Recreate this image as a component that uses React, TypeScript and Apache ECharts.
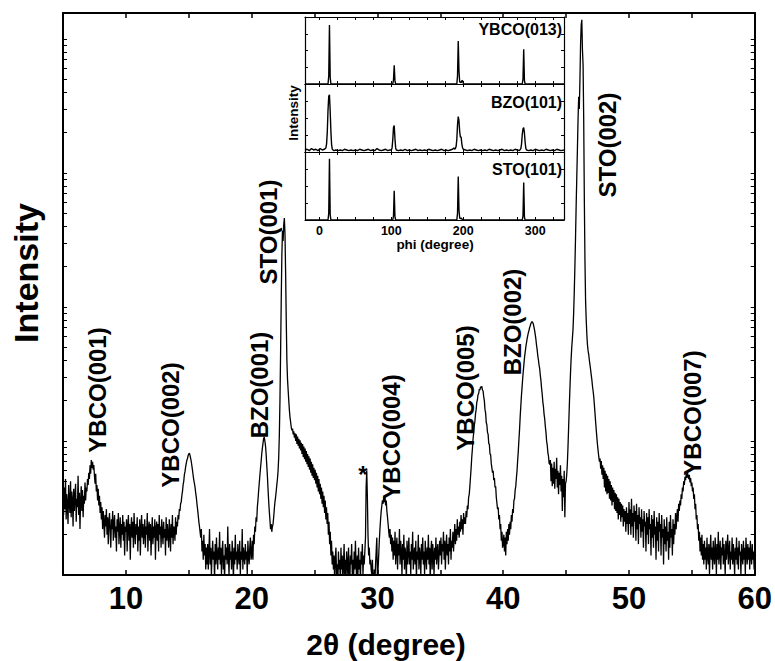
import React, { useEffect, useRef } from "react";
import * as echarts from "echarts";

// ---- main 2theta scan: counts at 0.05 deg steps starting at 5.00 deg ----
const SCAN_START = 5;
const SCAN_STEP = 0.05;

const seg05 = [
  38, 28, 45, 31, 52, 26, 40, 33, 24, 47,
  35, 29, 50, 27, 42, 36, 23, 44, 30, 39,
  48, 25, 37, 32, 55, 28, 41, 22, 36, 46,
  30, 43, 27, 39, 34, 49, 36, 45, 42, 52,
  47, 58, 52, 66, 57, 72, 63, 70, 61, 66,
  55, 48, 57, 42, 47, 36, 44, 33, 39, 29,
  35, 26, 32, 22, 30, 25, 19, 28, 23, 31,
  20, 27, 17, 25, 29, 21, 16, 26, 22, 30,
  18, 24, 28, 19, 23, 15, 26, 21, 29, 17,
  22, 27, 16, 24, 20, 28, 18, 25, 14, 23,
];
const seg10 = [
  21, 26, 15, 23, 28, 18, 24, 13, 22, 27,
  19, 25, 16, 29, 21, 17, 24, 20, 27, 15,
  23, 18, 26, 14, 22, 28, 19, 24, 17, 21,
  26, 16, 23, 20, 29, 15, 22, 25, 18, 24,
  14, 21, 27, 17, 23, 19, 26, 13, 22, 25,
  18, 24, 15, 28, 20, 23, 16, 26, 21, 17,
  25, 19, 22, 14, 27, 18, 24, 20, 16, 26,
  21, 15, 24, 19, 28, 17, 23, 22, 18, 27,
  20, 25, 23, 28, 26, 31, 30, 34, 35, 39,
  42, 47, 50, 56, 59, 64, 68, 72, 74, 78,
];
const seg15 = [
  80, 81, 78, 74, 70, 65, 60, 55, 51, 48,
  45, 41, 38, 34, 31, 28, 25, 23, 21, 19,
  22, 15, 18, 13, 20, 14, 17, 11, 16, 12,
  17, 11, 15, 22, 12, 16, 10, 14, 18, 13,
  15, 9, 17, 12, 19, 14, 11, 16, 13, 21,
  12, 16, 10, 15, 18, 11, 14, 9, 17, 13,
  16, 12, 23, 14, 10, 17, 13, 15, 11, 18,
  14, 9, 16, 12, 20, 13, 15, 11, 17, 14,
  12, 18, 10, 15, 13, 22, 11, 16, 14, 12,
  17, 13, 15, 10, 18, 14, 12, 16, 19, 13,
];
const seg20 = [
  14, 18, 13, 20, 17, 23, 21, 27, 25, 32,
  36, 42, 48, 55, 62, 70, 80, 88, 96, 104,
  107, 100, 92, 80, 66, 55, 44, 36, 30, 26,
  22, 24, 21, 23, 24, 27, 31, 35, 38, 42,
  47, 52, 60, 75, 110, 200, 450, 1100, 2400, 3700,
  3100, 4100, 4600, 3500, 1800, 800, 400, 290, 240, 200,
  170, 150, 138, 126, 120, 124, 112, 118, 106, 114,
  100, 112, 95, 108, 92, 104, 88, 101, 85, 97,
  80, 95, 76, 91, 73, 88, 70, 84, 67, 80,
  64, 77, 61, 74, 58, 70, 55, 67, 53, 63,
];
const seg25 = [
  51, 61, 48, 58, 45, 55, 42, 52, 40, 48,
  37, 45, 34, 42, 32, 39, 29, 36, 26, 32,
  24, 29, 20, 25, 17, 21, 14, 18, 12, 15,
  11, 14, 9, 13, 16, 10, 12, 8, 15, 11,
  13, 9, 16, 11, 14, 8, 12, 17, 10, 13,
  9, 15, 12, 10, 16, 11, 8, 14, 12, 17,
  10, 13, 9, 15, 11, 18, 12, 9, 14, 10,
  16, 11, 13, 9, 15, 12, 17, 10, 14, 12,
  15, 19, 45, 60, 38, 20, 14, 16, 12, 13,
  11, 10, 13, 9, 8, 11, 9, 12, 15, 19,
];
const seg30 = [
  9, 11, 14, 18, 22, 26, 30, 33, 36, 34,
  38, 35, 39, 33, 36, 30, 27, 24, 21, 19,
  22, 17, 20, 15, 19, 13, 18, 14, 21, 12,
  16, 19, 11, 17, 14, 22, 12, 18, 15, 10,
  17, 13, 20, 11, 16, 14, 9, 18, 12, 15,
  19, 12, 15, 10, 17, 13, 21, 11, 14, 16,
  12, 18, 9, 15, 13, 20, 11, 16, 14, 10,
  17, 13, 19, 12, 15, 10, 18, 14, 11, 16,
  13, 20, 12, 16, 9, 15, 18, 11, 17, 14,
  10, 16, 13, 19, 12, 15, 17, 11, 14, 18,
];
const seg35 = [
  14, 19, 12, 17, 15, 21, 13, 18, 11, 16,
  20, 14, 17, 12, 19, 15, 22, 13, 18, 16,
  21, 15, 19, 24, 17, 22, 18, 26, 20, 23,
  19, 25, 21, 28, 22, 26, 20, 29, 24, 27,
  24, 30, 27, 33, 31, 38, 40, 46, 54, 63,
  76, 87, 103, 114, 130, 140, 160, 172, 194, 203,
  222, 226, 244, 240, 254, 248, 256, 240, 236, 214,
  200, 172, 162, 138, 132, 116, 112, 96, 94, 80,
  79, 68, 68, 58, 60, 51, 53, 45, 46, 38,
  38, 31, 32, 26, 28, 22, 24, 18, 21, 16,
];
const seg40 = [
  17, 20, 15, 19, 14, 21, 17, 22, 18, 24,
  20, 25, 22, 28, 25, 31, 29, 36, 37, 43,
  46, 53, 60, 72, 84, 102, 122, 152, 182, 218,
  252, 294, 334, 378, 424, 462, 504, 540, 578, 610,
  642, 670, 702, 724, 752, 766, 777, 764, 742, 704,
  666, 618, 572, 518, 478, 432, 402, 368, 346, 308,
  282, 248, 224, 196, 180, 158, 146, 128, 116, 100,
  93, 82, 77, 68, 67, 72, 50, 68, 46, 63,
  48, 70, 44, 62, 52, 75, 45, 60, 40, 58,
  47, 66, 42, 55, 30, 52, 38, 60, 27, 48,
];
const seg45 = [
  50, 56, 68, 90, 125, 175, 240, 320, 410, 500,
  580, 680, 900, 1300, 2000, 3300, 5700, 9300, 15000, 25000,
  37000, 30000, 49000, 90000, 127000, 139000, 83000, 64000, 25000, 6300,
  2200, 1100, 800, 620, 520, 470, 440, 400, 370, 340,
  310, 285, 255, 235, 213, 185, 160, 138, 120, 105,
  93, 84, 76, 70, 74, 62, 71, 56, 66, 52,
  63, 45, 60, 42, 57, 40, 55, 41, 52, 37,
  50, 36, 47, 33, 45, 35, 43, 31, 41, 30,
  40, 29, 38, 26, 37, 28, 35, 25, 34, 27,
  33, 23, 31, 25, 30, 21, 32, 24, 29, 20,
];
const seg50 = [
  35, 24, 31, 20, 37, 23, 29, 19, 33, 25,
  30, 18, 34, 22, 28, 17, 32, 24, 27, 19,
  31, 21, 26, 16, 30, 23, 25, 15, 29, 20,
  27, 17, 31, 22, 24, 14, 28, 19, 26, 16,
  30, 20, 23, 13, 27, 18, 25, 15, 29, 21,
  24, 14, 28, 19, 22, 12, 26, 17, 23, 15,
  27, 18, 21, 13, 25, 16, 28, 19, 22, 14,
  26, 17, 24, 20, 29, 22, 27, 31, 25, 34,
  30, 36, 33, 40, 37, 45, 42, 50, 47, 54,
  51, 57, 53, 58, 55, 52, 56, 49, 53, 46,
];
const seg55 = [
  49, 42, 45, 37, 40, 31, 34, 26, 28, 22,
  24, 18, 21, 15, 19, 14, 20, 13, 17, 12,
  18, 13, 16, 11, 19, 14, 12, 17, 10, 15,
  20, 13, 16, 11, 18, 14, 12, 19, 15, 10,
  17, 13, 21, 12, 15, 18, 11, 16, 14, 19,
  12, 17, 14, 10, 18, 13, 16, 20, 12, 15,
  18, 11, 15, 13, 19, 12, 17, 14, 10, 16,
  13, 19, 12, 16, 11, 18, 14, 15, 10, 17,
  14, 12, 18, 13, 16, 10, 19, 15, 12, 17,
  13, 16, 11, 18, 14, 12, 17, 13, 15, 11,
  14,
];

// log-axis tick positions (decades and 2..9 minors)
const yTickValues = [
  20, 30, 40, 50, 60, 70, 80, 90, 100,
  200, 300, 400, 500, 600, 700, 800, 900, 1000,
  2000, 3000, 4000, 5000, 6000, 7000, 8000, 9000, 10000,
  20000, 30000, 40000, 50000, 60000, 70000, 80000, 90000, 100000,
];

// peak annotations
const peakNames = [
  "YBCO(001)", "YBCO(002)", "BZO(001)", "STO(001)", "*",
  "YBCO(004)", "YBCO(005)", "BZO(002)", "STO(002)", "YBCO(007)",
];

// ---- inset: phi scans, [phi, normalised intensity] ----
const phiYBCO = [
  [-20, 0], [12, 0], [13, 0.12], [14, 0.88], [15, 0.1], [16, 0],
  [102, 0], [103, 0.06], [104, 0.28], [105, 0.05], [106, 0],
  [191, 0], [192, 0.12], [193, 0.64], [194, 0.2], [195, 0.03], [197, 0.02],
  [198, 0.05], [199, 0.05], [200, 0.01], [201, 0],
  [282, 0], [283, 0.08], [284, 0.52], [285, 0.05], [286, 0], [340, 0],
];
const phiBZO = [
  [-20, 0.03], [-17, 0.04], [-14, 0.02], [-11, 0.05], [-8, 0.03], [-5, 0.04],
  [-2, 0.02], [1, 0.05], [4, 0.03], [7, 0.04], [9, 0.06], [10, 0.12],
  [11, 0.3], [12, 0.62], [13, 0.82], [14, 0.84], [15, 0.6], [16, 0.3],
  [17, 0.1], [18, 0.04], [20, 0.02], [23, 0.03], [26, 0.02], [29, 0.03],
  [32, 0.02], [35, 0.04], [38, 0.03], [41, 0.02], [44, 0.03], [47, 0.02],
  [50, 0.03], [53, 0.02], [56, 0.04], [59, 0.03], [62, 0.02], [65, 0.03],
  [68, 0.04], [71, 0.02], [74, 0.03], [77, 0.02], [80, 0.05], [83, 0.03],
  [86, 0.02], [89, 0.03], [92, 0.04], [95, 0.02], [98, 0.03], [100, 0.03],
  [101, 0.06], [102, 0.18], [103, 0.36], [104, 0.39], [105, 0.2], [106, 0.06],
  [107, 0.03], [110, 0.02], [113, 0.03], [116, 0.02], [119, 0.04], [122, 0.02],
  [125, 0.03], [128, 0.02], [131, 0.03], [134, 0.04], [137, 0.02], [140, 0.03],
  [143, 0.02], [146, 0.03], [149, 0.02], [152, 0.04], [155, 0.03], [158, 0.02],
  [161, 0.03], [164, 0.02], [167, 0.03], [170, 0.04], [173, 0.02], [176, 0.03],
  [179, 0.02], [182, 0.03], [185, 0.04], [187, 0.06], [188, 0.04], [189, 0.05],
  [190, 0.08], [191, 0.18], [192, 0.4], [193, 0.52], [194, 0.46], [195, 0.3],
  [196, 0.22], [197, 0.22], [198, 0.12], [199, 0.06], [200, 0.04], [203, 0.03],
  [206, 0.02], [209, 0.03], [212, 0.02], [215, 0.04], [218, 0.03], [221, 0.02],
  [224, 0.03], [227, 0.02], [230, 0.03], [233, 0.02], [236, 0.04], [239, 0.03],
  [242, 0.02], [245, 0.03], [248, 0.02], [251, 0.03], [254, 0.04], [257, 0.02],
  [260, 0.03], [263, 0.02], [266, 0.03], [269, 0.02], [272, 0.04], [275, 0.03],
  [278, 0.02], [280, 0.05], [281, 0.12], [282, 0.26], [283, 0.34], [284, 0.36],
  [285, 0.28], [286, 0.14], [287, 0.05], [288, 0.03], [291, 0.02], [294, 0.03],
  [297, 0.02], [300, 0.04], [303, 0.03], [306, 0.02], [309, 0.03], [312, 0.02],
  [315, 0.04], [318, 0.03], [321, 0.02], [324, 0.03], [327, 0.02], [330, 0.04],
  [333, 0.03], [336, 0.02], [340, 0.03],
];
const phiSTO = [
  [-20, 0], [12, 0], [13, 0.1], [14, 0.9], [15, 0.08], [16, 0],
  [102, 0], [103, 0.06], [104, 0.43], [105, 0.05], [106, 0],
  [191, 0], [192, 0.1], [193, 0.64], [194, 0.15], [195, 0.03], [196, 0.02],
  [197, 0.03], [198, 0.02], [199, 0],
  [282, 0], [283, 0.06], [284, 0.55], [285, 0.04], [286, 0], [340, 0],
];
const insetNames = ["YBCO(013)", "BZO(101)", "STO(101)"];
const phiTickValues = [0, 25, 50, 75, 100, 125, 150, 175, 200, 225, 250, 275, 300, 325];
const phiLabelValues = [0, 100, 200, 300];

const FONT = '"Liberation Sans", Arial, Helvetica, sans-serif';

function buildOption() {
  const counts = [
    ...seg05, ...seg10, ...seg15, ...seg20, ...seg25,
    ...seg30, ...seg35, ...seg40, ...seg45, ...seg50, ...seg55,
  ];
  const scan = counts.map((c, i) => [+(SCAN_START + i * SCAN_STEP).toFixed(2), c]);

  const blackLine = (w: number) => ({ show: true, onZero: false, lineStyle: { color: "#000", width: w } });

  const xAxis: any[] = [
    {
      type: "value", gridIndex: 0, min: 5, max: 60, interval: 5, position: "bottom",
      axisLine: blackLine(2),
      axisTick: { show: true, inside: true, length: 5, lineStyle: { color: "#000", width: 1.5 } },
      axisLabel: {
        show: true, color: "#000", fontSize: 31, fontWeight: "bold", fontFamily: FONT, margin: 8,
        formatter: (v: number) => (v % 10 === 0 ? String(v) : ""),
      },
      splitLine: { show: false },
    },
    {
      type: "value", gridIndex: 0, min: 5, max: 60, interval: 5, position: "top",
      axisLine: blackLine(2),
      axisTick: { show: true, inside: true, length: 5, lineStyle: { color: "#000", width: 1.5 } },
      axisLabel: { show: false }, splitLine: { show: false },
    },
  ];
  const yAxis: any[] = [
    {
      type: "log", logBase: 10, gridIndex: 0, min: 10, max: 156000, position: "left",
      axisLine: blackLine(2),
      axisTick: { show: true, inside: true, length: 4, customValues: yTickValues, lineStyle: { color: "#000", width: 1 } },
      axisLabel: { show: false }, splitLine: { show: false },
    },
    {
      type: "log", logBase: 10, gridIndex: 0, min: 10, max: 156000, position: "right",
      axisLine: blackLine(2),
      axisTick: { show: true, inside: true, length: 4, customValues: yTickValues, lineStyle: { color: "#000", width: 1 } },
      axisLabel: { show: false }, splitLine: { show: false },
    },
  ];
  for (let k = 1; k <= 3; k++) {
    for (const pos of ["bottom", "top"]) {
      const withLabels = k === 3 && pos === "bottom";
      xAxis.push({
        type: "value", gridIndex: k, min: -20, max: 340, position: pos,
        axisLine: blackLine(1.2),
        axisTick: { show: true, inside: true, length: 3, customValues: phiTickValues, lineStyle: { color: "#000", width: 1 } },
        axisLabel: withLabels
          ? { show: true, customValues: phiLabelValues, color: "#000", fontSize: 12.5, fontWeight: "bold", fontFamily: FONT, margin: 4 }
          : { show: false },
        splitLine: { show: false },
      });
    }
    for (const pos of ["left", "right"]) {
      yAxis.push({
        type: "value", gridIndex: k, min: 0, max: 1, interval: 0.25, position: pos,
        axisLine: blackLine(1.2),
        axisTick: { show: true, inside: true, length: 3, lineStyle: { color: "#000", width: 1 } },
        axisLabel: { show: false }, splitLine: { show: false },
      });
    }
  }

  const insetData = [phiYBCO, phiBZO, phiSTO];
  const series: any[] = [
    {
      type: "line", xAxisIndex: 0, yAxisIndex: 0, data: scan, symbol: "none", showSymbol: false,
      lineStyle: { color: "#000", width: 1.3 }, silent: true, clip: true, z: 3,
    },
    ...insetData.map((d, i) => ({
      type: "line", xAxisIndex: 2 + i * 2, yAxisIndex: 2 + i * 2, data: d, symbol: "none", showSymbol: false,
      lineStyle: { color: "#000", width: 1.4 }, silent: true, clip: true, z: 3,
    })),
  ];

  const txt = (text: string, x: number, y: number, size: number, rotate: boolean, align = "center") => ({
    type: "text", x, y, rotation: rotate ? Math.PI / 2 : 0, silent: true, z: 100,
    style: {
      text, fill: "#000", font: `bold ${size}px ${FONT}`,
      textAlign: align, textVerticalAlign: "middle", align, verticalAlign: "middle",
    },
  });

  const peakPos = [
    [97, 390], [170, 425], [259, 385], [268, 232], [363, 474],
    [391, 437], [465, 388], [512, 322], [607, 145], [692, 413],
  ];
  const graphic: any[] = [
    txt("Intensity", 26, 273, 34, true),
    txt("2θ (degree)", 386, 644, 30, false),
    ...peakNames.map((n, i) => txt(n, peakPos[i][0], peakPos[i][1], 24, n !== "*")),
    txt(insetNames[0], 562, 29, 16, false, "right"),
    txt(insetNames[1], 562, 102, 16, false, "right"),
    txt(insetNames[2], 562, 169, 16, false, "right"),
    txt("Intensity", 293, 113, 13.5, true),
    txt("phi (degree)", 435, 244, 13.5, false),
  ];

  return {
    animation: false,
    backgroundColor: "#fff",
    grid: [
      { left: 63, top: 13, right: 18, bottom: 86 },
      { left: 305, top: 17, width: 259, height: 67 },
      { left: 305, top: 84, width: 259, height: 68 },
      { left: 305, top: 152, width: 259, height: 68 },
    ],
    xAxis, yAxis, series, graphic,
  };
}

export default function App() {
  const ref = useRef<HTMLDivElement>(null);
  useEffect(() => {
    if (!ref.current) return;
    const chart = echarts.init(ref.current, undefined, { renderer: "svg" });
    chart.setOption(buildOption() as any);
    return () => chart.dispose();
  }, []);
  return (
    <div
      ref={ref}
      style={{ position: "fixed", left: 0, top: 0, width: 775, height: 661, background: "#fff" }}
    />
  );
}
